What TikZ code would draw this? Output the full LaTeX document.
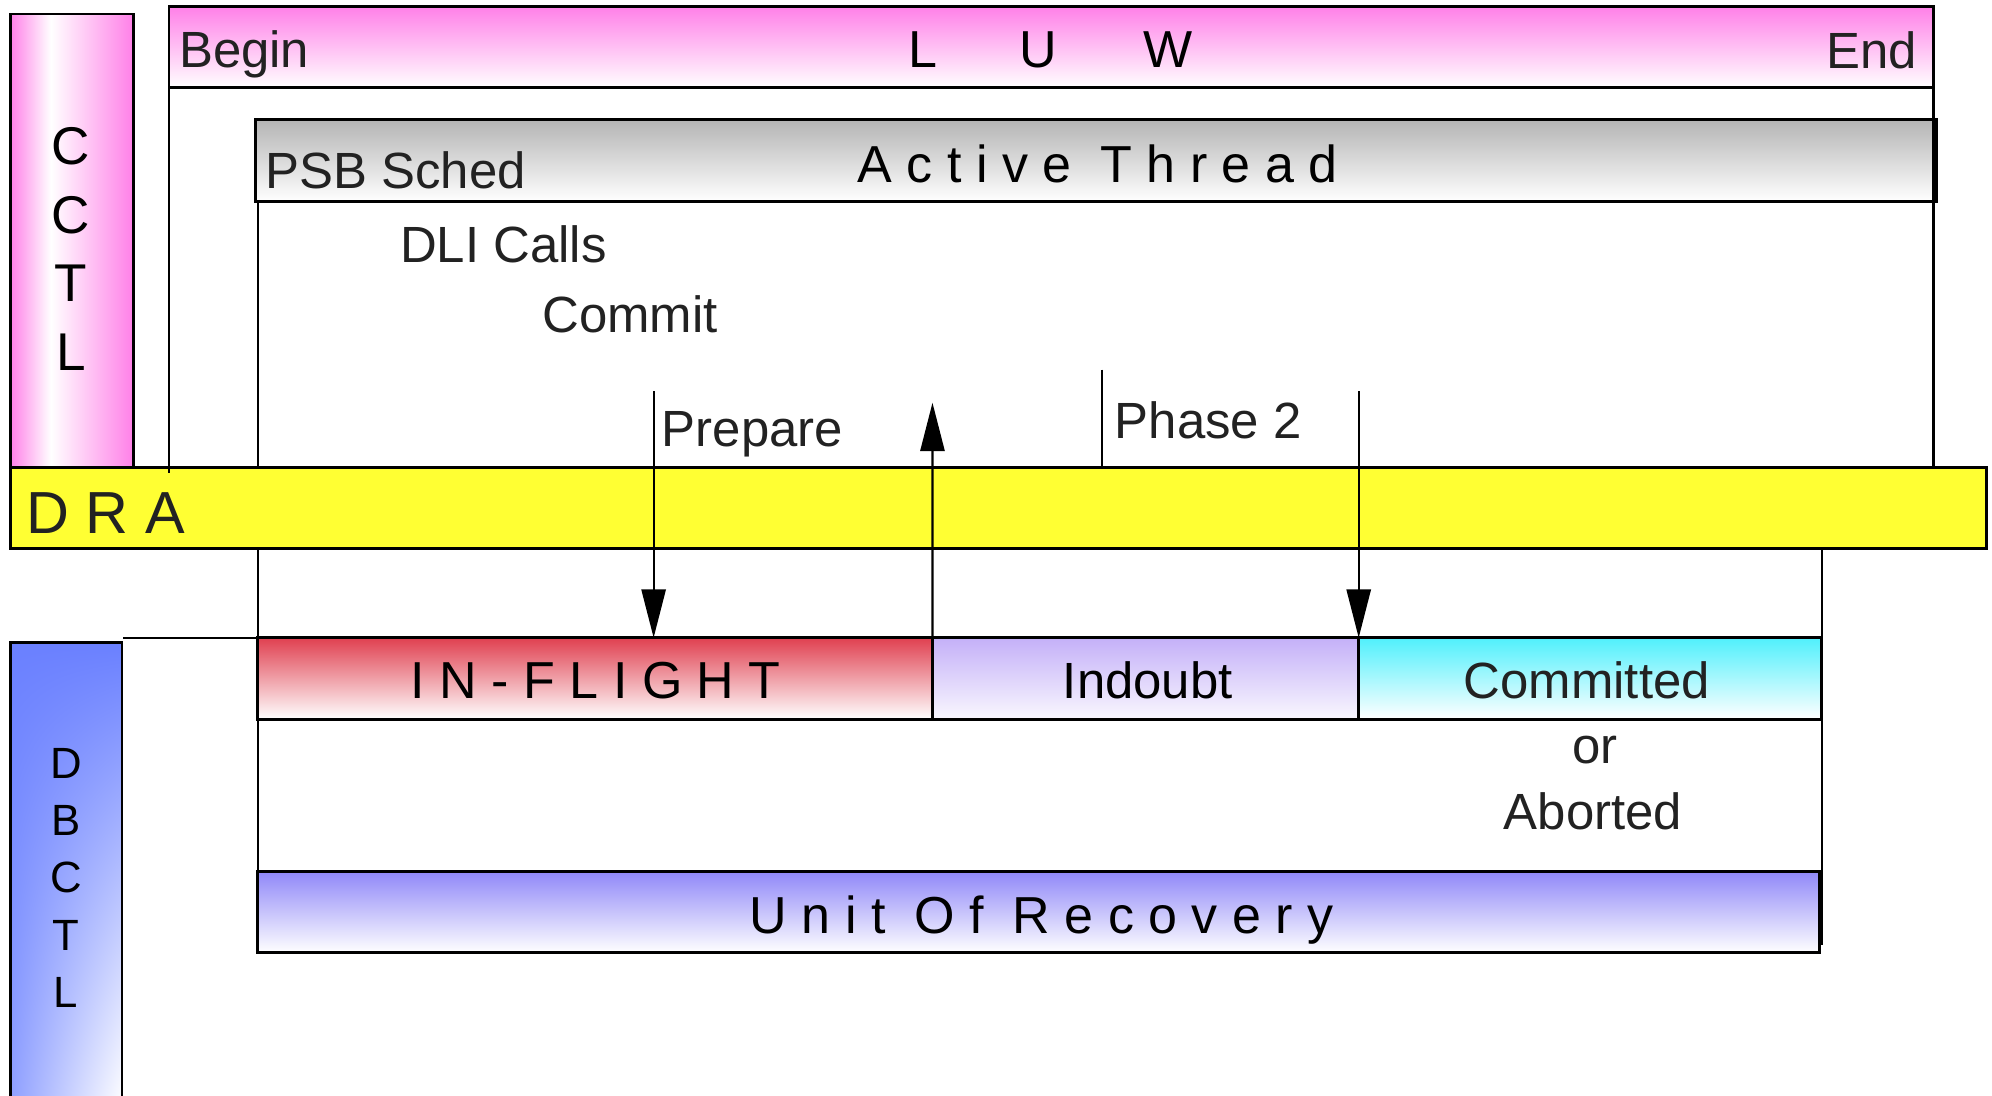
\documentclass[tikz,border=0pt]{standalone}
\usepackage{fontspec}
\setmainfont{Liberation Sans}
\usetikzlibrary{arrows.meta,calc,shadings}
\definecolor{pinkc}{HTML}{FF80E8}
\definecolor{grayc}{HTML}{B4B4B4}
\definecolor{yellowc}{HTML}{FFFF33}
\definecolor{redc}{HTML}{E04050}
\definecolor{lavc}{HTML}{C4B0F8}
\definecolor{cyanc}{HTML}{50F0FC}
\definecolor{uorc}{HTML}{9088F8}
\definecolor{bluec}{HTML}{6A80FF}
\definecolor{txt}{HTML}{222222}
\pgfdeclarehorizontalshading{cctlshade}{100bp}{color(0bp)=(pinkc); color(25bp)=(pinkc); color(41.5bp)=(white); color(75bp)=(pinkc); color(100bp)=(pinkc)}
\begin{document}
\begin{tikzpicture}[x=0.1mm,y=-0.1mm,
  box/.style={draw=black,line width=0.65pt,inner sep=0pt,outer sep=0pt,anchor=north west},
  wire/.style={draw=black,line width=0.5pt},
  arr/.style={wire,-{Triangle[length=3.8mm,width=1.9mm]}},
  lbl/.style={font=\fontsize{11.4}{13}\selectfont,text=txt,inner sep=0pt,outer sep=0pt},
  big/.style={font=\fontsize{11.65}{14}\selectfont,text=black,inner sep=0pt,outer sep=0pt},
]
\useasboundingbox (0,0) rectangle (1568,862);
\clip (0,0) rectangle (1568,862);
\fill[white] (0,0) rectangle (1568,862);

% CCTL bar
\node[box,minimum width=9.7mm,minimum height=35.7mm,shade,shading=cctlshade] (cctl) at (8,11) {};
\node[font=\fontsize{11.9}{15.4}\selectfont,align=center,inner sep=0pt] (cctlt) at (56,196) {C\\C\\T\\L};

% LUW bar
\node[box,minimum width=138.9mm,minimum height=6.4mm,top color=pinkc,bottom color=white] (luw) at (133,5) {};
\node[lbl,anchor=base west] (begin) at (141,53) {Begin};
\node[lbl,anchor=base east] (end) at (1509,54) {End};
\node[big,anchor=base west] (luwt) at (715,53) {L\hspace{6.5mm}U\hspace{6.75mm}W};

% Active thread bar
\node[box,minimum width=132.3mm,minimum height=6.45mm,top color=grayc,bottom color=white] (active) at (201,94) {};
\node[lbl,anchor=base west] (psb) at (209,148) {PSB Sched};
\node[big,anchor=base] (actt) at (864,144) {A c t i v e\ \ T h r e a d};

\node[lbl,anchor=base west] (dli) at (315,207) {DLI Calls};
\node[lbl,anchor=base west] (commit) at (427,262) {Commit};

% DRA bar
\node[box,minimum width=155.6mm,minimum height=6.4mm,fill=yellowc] (dra) at (8,368) {};
\node[font=\fontsize{13.3}{15}\selectfont,text=txt,inner sep=0pt,anchor=base west] (drat) at (20,420) {D R A};

% vertical guides
\draw[wire] (luw.south west) -- ($(luw.south west |- dra.north)+(0,4)$);
\draw[wire] (luw.south east) -- (luw.south east |- dra.north);
\draw[wire] (active.south west) ++(2,0) -- ($(active.south west |- dra.north)+(2,0)$);

% state boxes
\node[box,minimum width=53.1mm,minimum height=6.4mm,top color=redc,bottom color=white] (inflight) at (203,502) {};
\node[box,minimum width=33.5mm,minimum height=6.4mm,top color=lavc,bottom color=lavc!10] (indoubt) at (734,502) {};
\node[box,minimum width=36.5mm,minimum height=6.4mm,top color=cyanc,bottom color=white] (committed) at (1069,502) {};
\node[big,anchor=base] (inft) at (469,550) {I N - F L I G H T};
\node[lbl,anchor=base,text=black] (indt) at (903.5,549.7) {Indoubt};
\node[lbl,anchor=base] (comt) at (1249,549.6) {Committed};
\node[lbl,anchor=base] (ort) at (1255.5,600.8) {or};
\node[lbl,anchor=base] (abt) at (1254,653) {Aborted};

% Unit of recovery
\node[box,minimum width=122.9mm,minimum height=6.4mm,top color=uorc,bottom color=white] (uor) at (203,686) {};
\node[big,anchor=base] (uort) at (820,735) {U n i t\ \ O f\ \ R e c o v e r y};

% lines below DRA
\draw[wire] (dra.south -| inflight.west) -- (inflight.north west);
\draw[wire] (inflight.south west) -- ($(inflight.south west |- uor.north)+(0,51)$);
\draw[wire] (dra.south -| committed.east) -- ($(committed.east |- uor.south)+(0,-6)$);
\coordinate (hl) at (97,502);
\draw[wire] (hl) -- (inflight.north west);

% DBCTL bar
\node[box,minimum width=8.8mm,minimum height=36.6mm,
  upper left=bluec,upper right=bluec,lower left=bluec!75,lower right=white] (dbctl) at (8,506) {};
\node[font=\fontsize{9.8}{12.8}\selectfont,align=center,inner sep=0pt] (dbctlt) at (52,691) {D\\B\\C\\T\\L};

% arrows and phase lines
\coordinate (prepTop) at (514.5,308);
\draw[arr] (prepTop) -- (prepTop |- inflight.north);
\node[lbl,anchor=base west] (prep) at (521,351.5) {Prepare};
\coordinate (ackTop) at (734,317);
\draw[arr] (inflight.north east) -- (ackTop);
\coordinate (ph2) at (867.5,291);
\draw[wire] (ph2) -- (ph2 |- dra.north);
\node[lbl,anchor=base west] (ph2t) at (877.5,345) {Phase 2};
\coordinate (p2Top) at (1069.5,308);
\draw[arr] (p2Top) -- (p2Top |- committed.north);
\end{tikzpicture}
\end{document}
